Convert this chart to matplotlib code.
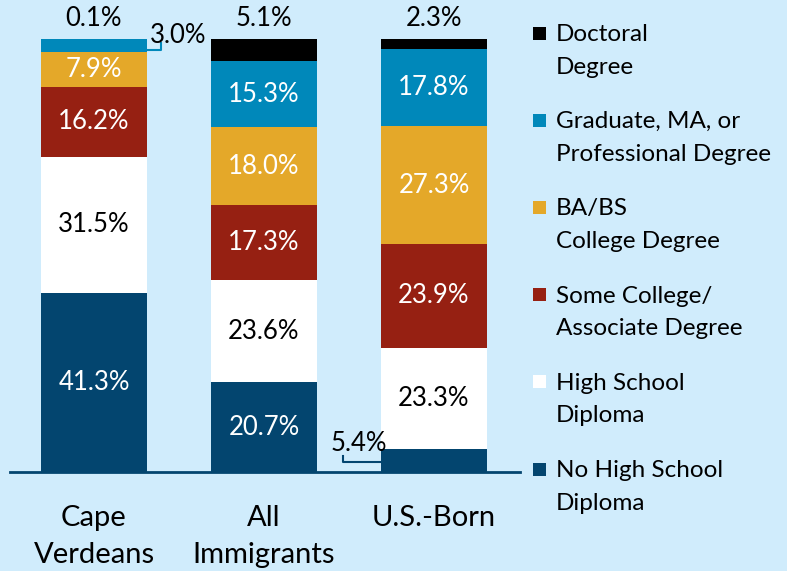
import numpy as np
import matplotlib
matplotlib.use('Agg')
import matplotlib.pyplot as plt
from matplotlib.patches import Rectangle

plt.rcParams['font.family'] = ['Lato', 'DejaVu Sans']

groups = ['Cape\nVerdeans', 'All\nImmigrants', 'U.S.-Born']
levels = ['No High School\nDiploma', 'High School\nDiploma', 'Some College/\nAssociate Degree',
          'BA/BS\nCollege Degree', 'Graduate, MA, or\nProfessional Degree', 'Doctoral\nDegree']
no_hs = [41.3, 20.7, 5.4]
hs = [31.5, 23.6, 23.3]
some_college = [16.2, 17.3, 23.9]
ba_bs = [7.9, 18.0, 27.3]
graduate = [3.0, 15.3, 17.8]
doctoral = [0.1, 5.1, 2.3]

colors = ['#03456F', '#FFFFFF', '#962012', '#E4A829', '#0088BA', '#000000']
text_colors = ['white', 'black', 'white', 'white', 'white', 'white']
bg = '#D0ECFC'

series = np.array([no_hs, hs, some_college, ba_bs, graduate, doctoral])

fig = plt.figure(figsize=(7.87, 5.71), dpi=100)
fig.patch.set_facecolor(bg)
W, H = 787, 571
ax = fig.add_axes([10/W, (H-472)/H, 510/W, 433/H])
ax.set_facecolor(bg)

lab_fs = 18.5
x = np.arange(len(groups))
width = 0.624
bottom = np.zeros(len(groups))
for i in range(len(series)):
    ax.bar(x, series[i], width, bottom=bottom, color=colors[i], edgecolor='none')
    for j in range(len(groups)):
        v = series[i][j]
        yc = bottom[j] + v/2
        if i == 5:
            # doctoral: labels above the bars
            ax.text(x[j], 104.7, '%.1f%%' % v, ha='center', va='center', fontsize=lab_fs, color='black')
        elif j == 0 and i == 4:
            # small segment, label outside with leader
            xe = x[j] + width/2
            ax.plot([xe + 0.005, xe + 0.085, xe + 0.085], [yc - 1.0, yc - 1.0, yc + 0.6],
                    color=colors[i], lw=1.5, clip_on=False)
            ax.text(xe + 0.018, 100.9, '%.1f%%' % v, ha='left', va='center', fontsize=lab_fs, color='black')
        elif j == 2 and i == 0:
            xe = x[j] - width/2
            ax.plot([xe, xe - 0.225, xe - 0.225], [yc - 0.5, yc - 0.5, yc + 0.9],
                    color=colors[i], lw=1.5, clip_on=False)
            ax.text(xe - 0.13, 6.6, '%.1f%%' % v, ha='center', va='center', fontsize=lab_fs, color='black')
        else:
            ax.text(x[j], yc, '%.1f%%' % v, ha='center', va='center', fontsize=lab_fs,
                    color=text_colors[i])
    bottom += series[i]

ax.set_xlim(-0.494, 2.506)
ax.set_ylim(0, 100)
ax.set_yticks([])
ax.set_xticks(x)
ax.set_xticklabels(groups, fontsize=21, linespacing=1.5)
ax.tick_params(axis='x', length=0, pad=24)
for s in ['top', 'right', 'left']:
    ax.spines[s].set_visible(False)
ax.spines['bottom'].set_color('#03456F')
ax.spines['bottom'].set_linewidth(2)

# legend, top entry first
for k in range(len(levels)):
    i = len(levels) - 1 - k
    yc = 33 + k*87.2
    fig.patches.append(Rectangle((533/W, (H - yc - 6.5)/H), 13/W, 13/H,
                                 transform=fig.transFigure, facecolor=colors[i],
                                 edgecolor='none'))
    fig.text(556/W, (H - yc + 9)/H, levels[i], ha='left', va='top', fontsize=17.5,
             linespacing=1.68, color='black')

fig.savefig('out.png', dpi=100, facecolor=bg)
